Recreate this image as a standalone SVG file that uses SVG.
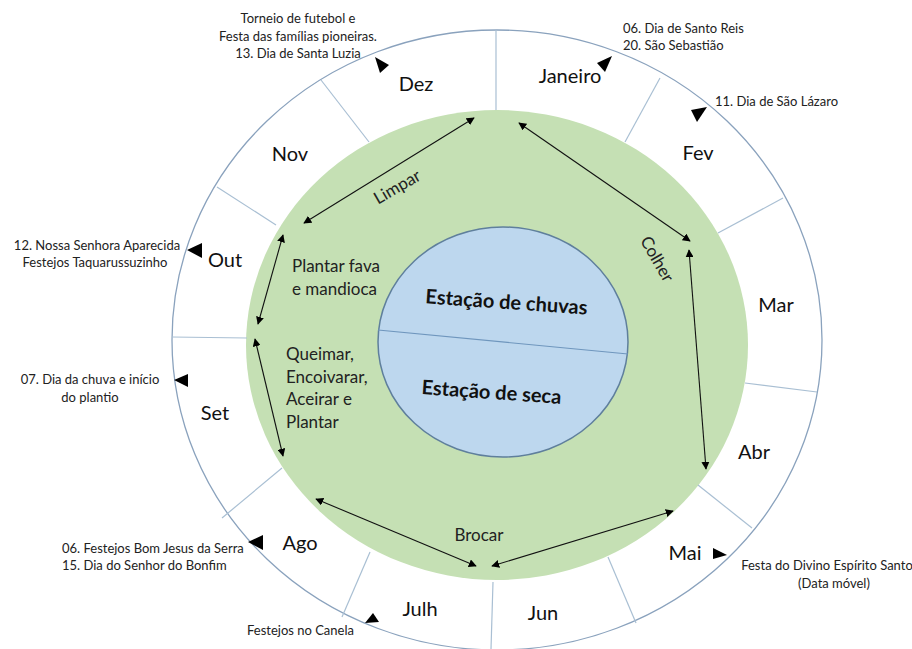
<svg xmlns="http://www.w3.org/2000/svg" width="912" height="649" viewBox="0 0 912 649">
  <style>
    .ring { fill: #ffffff; stroke: #8aa2bd; stroke-width: 1.3; }
    .field { fill: #c5e0b4; stroke: none; }
    .season { fill: #bdd7ee; stroke: #5f7f9c; stroke-width: 1.5; }
    .split { stroke: #6f96bd; stroke-width: 1.2; fill: none; }
    .sep { stroke: #a9bfd3; stroke-width: 1.2; }
    .month { font-family: Lato, "Liberation Sans", sans-serif; font-size: 20px; fill: #111; text-anchor: middle; }
    .event { font-family: Lato, "Liberation Sans", sans-serif; font-size: 13px; fill: #222; }
    .task { font-family: Lato, "Liberation Sans", sans-serif; font-size: 17px; fill: #222; }
    .title { font-family: Lato, "Liberation Sans", sans-serif; font-size: 20px; font-weight: bold; fill: #111; text-anchor: middle; }
    .flag { fill: #000; }
    .link { stroke: #111; stroke-width: 1.1; fill: none; marker-start: url(#head); marker-end: url(#head); }
  </style>
  <defs>
    <marker id="head" viewBox="0 0 10 10" refX="9" refY="5" markerWidth="8" markerHeight="8" markerUnits="userSpaceOnUse" orient="auto-start-reverse">
      <path d="M0,0 L10,5 L0,10 z" fill="#000"/>
    </marker>
  </defs>

  <!-- calendar rings -->
  <g id="outer-ring">
    <ellipse class="ring" cx="497" cy="340" rx="325" ry="310"/>
  </g>
  <g id="field-ring">
    <ellipse class="field" cx="497" cy="345" rx="251" ry="235"/>
  </g>

  <!-- month separators -->
  <g id="separators">
    <line class="sep" x1="496" y1="30" x2="496" y2="110"/>
    <line class="sep" x1="660" y1="78" x2="625" y2="142"/>
    <line class="sep" x1="783" y1="198" x2="718" y2="233"/>
    <line class="sep" x1="745" y1="383" x2="817" y2="392"/>
    <line class="sep" x1="698" y1="485" x2="752" y2="528"/>
    <line class="sep" x1="608" y1="557" x2="636" y2="623"/>
    <line class="sep" x1="493" y1="582" x2="491" y2="649"/>
    <line class="sep" x1="370" y1="552" x2="342" y2="617"/>
    <line class="sep" x1="282" y1="468" x2="222" y2="518"/>
    <line class="sep" x1="172" y1="337" x2="247" y2="338"/>
    <line class="sep" x1="217" y1="187" x2="276" y2="225"/>
    <line class="sep" x1="321" y1="80" x2="369" y2="142"/>
  </g>

  <!-- seasons -->
  <g id="seasons">
    <ellipse class="season" cx="503" cy="342" rx="125" ry="115"/>
    <line class="split" x1="378" y1="330" x2="628" y2="354"/>
    <text class="title" transform="translate(506,309) rotate(4)">Estação de chuvas</text>
    <text class="title" transform="translate(491,399) rotate(4)">Estação de seca</text>
  </g>

  <!-- months -->
  <g id="month-jan"><text class="month" x="570" y="83">Janeiro</text></g>
  <g id="month-fev"><text class="month" x="698" y="160">Fev</text></g>
  <g id="month-mar"><text class="month" x="776" y="312">Mar</text></g>
  <g id="month-abr"><text class="month" x="754" y="459">Abr</text></g>
  <g id="month-mai"><text class="month" x="685" y="560">Mai</text></g>
  <g id="month-jun"><text class="month" x="543" y="620">Jun</text></g>
  <g id="month-jul"><text class="month" x="420" y="616">Julh</text></g>
  <g id="month-ago"><text class="month" x="300" y="550">Ago</text></g>
  <g id="month-set"><text class="month" x="215" y="420">Set</text></g>
  <g id="month-out"><text class="month" x="225" y="267">Out</text></g>
  <g id="month-nov"><text class="month" x="290" y="161">Nov</text></g>
  <g id="month-dez"><text class="month" x="416" y="91">Dez</text></g>

  <!-- festivities -->
  <g id="event-dez">
    <polygon class="flag" points="375,57 380,73 389,65"/>
    <text class="event" text-anchor="middle" x="298" y="23">Torneio de futebol e</text>
    <text class="event" text-anchor="middle" x="298" y="41">Festa das famílias pioneiras.</text>
    <text class="event" text-anchor="middle" x="298" y="58">13. Dia de Santa Luzia</text>
  </g>
  <g id="event-jan">
    <polygon class="flag" points="612,56 597,63 605,72"/>
    <text class="event" x="623" y="33">06. Dia de Santo Reis</text>
    <text class="event" x="623" y="50">20. São Sebastião</text>
  </g>
  <g id="event-fev">
    <polygon class="flag" points="707,107 691,110 697,122"/>
    <text class="event" x="715" y="106">11. Dia de São Lázaro</text>
  </g>
  <g id="event-out">
    <polygon class="flag" points="187,250 202,243 202,258"/>
    <text class="event" text-anchor="middle" x="97" y="250">12. Nossa Senhora  Aparecida</text>
    <text class="event" text-anchor="middle" x="95" y="267">Festejos Taquarussuzinho</text>
  </g>
  <g id="event-set">
    <polygon class="flag" points="174,380 188,374 188,387"/>
    <text class="event" text-anchor="middle" x="90" y="384">07. Dia da chuva e início</text>
    <text class="event" text-anchor="middle" x="90" y="402">do plantio</text>
  </g>
  <g id="event-ago">
    <polygon class="flag" points="248,542 263,535 263,550"/>
    <text class="event" x="62" y="553">06. Festejos Bom Jesus da Serra</text>
    <text class="event" x="62" y="570">15. Dia do Senhor  do Bonfim</text>
  </g>
  <g id="event-jul">
    <polygon class="flag" points="365,623 373,613 379,622"/>
    <text class="event" x="247" y="635">Festejos no Canela</text>
  </g>
  <g id="event-mai">
    <polygon class="flag" points="713,548 713,559 727,555"/>
    <text class="event" text-anchor="middle" x="827" y="570">Festa do Divino Espírito Santo</text>
    <text class="event" text-anchor="middle" x="834" y="588">(Data móvel)</text>
  </g>

  <!-- farming tasks -->
  <g id="task-limpar"><text class="task" text-anchor="middle" transform="translate(400,192) rotate(-30)">Limpar</text></g>
  <g id="task-colher"><text class="task" text-anchor="middle" transform="translate(652,262) rotate(60)">Colher</text></g>
  <g id="task-plantar">
    <text class="task" x="292" y="272">Plantar fava</text>
    <text class="task" x="292" y="295">e mandioca</text>
  </g>
  <g id="task-queimar">
    <text class="task" x="286" y="360">Queimar,</text>
    <text class="task" x="286" y="383">Encoivarar,</text>
    <text class="task" x="286" y="405">Aceirar e</text>
    <text class="task" x="286" y="428">Plantar</text>
  </g>
  <g id="task-brocar"><text class="task" text-anchor="middle" x="479" y="541">Brocar</text></g>

  <!-- task spans -->
  <g id="connectors">
    <line class="link" x1="304" y1="223" x2="474" y2="118"/>
    <line class="link" x1="519" y1="123" x2="690" y2="241"/>
    <line class="link" x1="689" y1="250" x2="706" y2="469"/>
    <line class="link" x1="492" y1="566" x2="673" y2="511"/>
    <line class="link" x1="316" y1="499" x2="476" y2="566"/>
    <line class="link" x1="283" y1="235" x2="258" y2="324"/>
    <line class="link" x1="255" y1="339" x2="283" y2="456"/>
  </g>
</svg>
